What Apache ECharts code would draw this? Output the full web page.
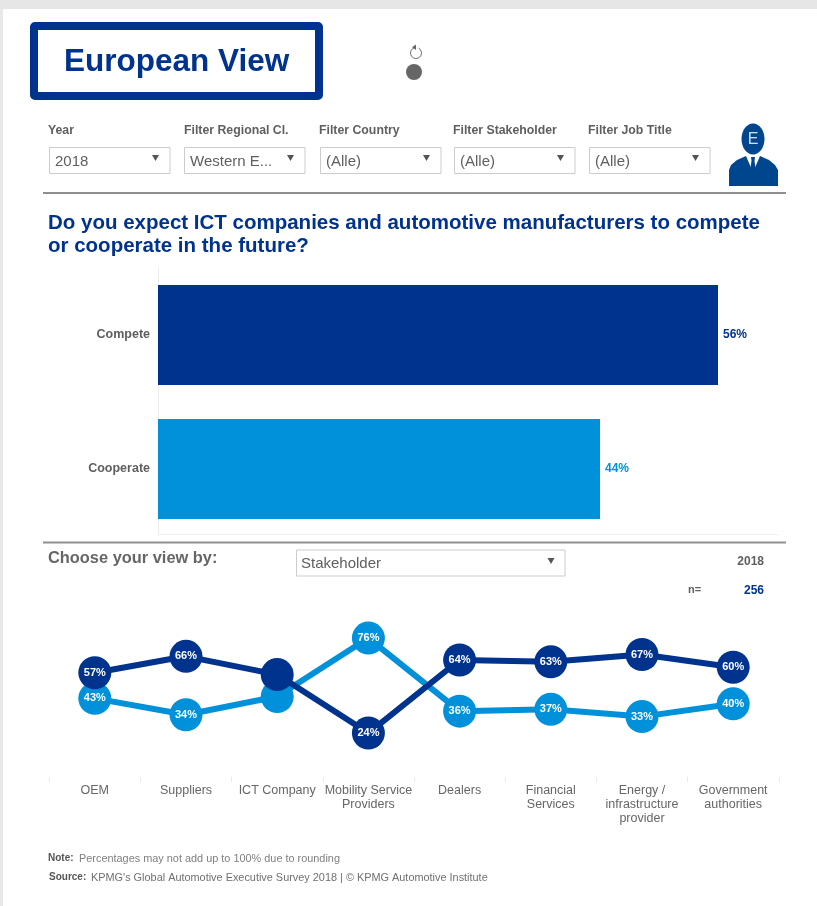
<!DOCTYPE html>
<html><head><meta charset="utf-8">
<style>html,body{margin:0;padding:0;background:#fff}#c{width:817px;height:906px}</style>
<script src="https://cdn.jsdelivr.net/npm/echarts@6/dist/echarts.min.js"></script>
</head><body><div id="c"></div>
<script>
const barCategories = ['Compete', 'Cooperate'];
const barValues = [56, 44.2];
const stakeholders = ['OEM', 'Suppliers', 'ICT Company', 'Mobility Service\nProviders', 'Dealers', 'Financial\nServices', 'Energy /\ninfrastructure\nprovider', 'Government\nauthorities'];
const competeValues = [57, 66, 56, 24, 64, 63, 67, 60];
const cooperateValues = [43, 34, 44, 76, 36, 37, 33, 40];
const hiddenLabelCategories = ['ICT Company'];
const filterLabels = ['Year', 'Filter Regional Cl.', 'Filter Country', 'Filter Stakeholder', 'Filter Job Title'];
const filterValues = ['2018', 'Western E...', '(Alle)', '(Alle)', '(Alle)'];

const DARK = '#00338D', CYAN = '#0091DA', GREY = '#666666';
const FF = '"Liberation Sans", Arial, sans-serif';
const g = [];
const txt = (x, y, text, size, color, weight, align, family) => g.push({type:'text', x, y, z:5, style:{text, fontSize:size, fill:color, fontWeight:weight||'normal', fontFamily:family||FF, align:align||'left', verticalAlign:'middle'}});
const rect = (x, y, w, h, style, r) => g.push({type:'rect', shape:{x, y, width:w, height:h, r:r||0}, style, z:1});
const arrow = (cx, cy) => g.push({type:'polygon', shape:{points:[[cx-3.5,cy-3],[cx+3.5,cy-3],[cx,cy+3]]}, style:{fill:'#555'}, z:3});

// page chrome
rect(0, 0, 817, 9, {fill:'#e6e6e6'});
rect(0, 9, 3, 897, {fill:'#e8e8e8'});
rect(34, 26, 285, 70, {fill:'#fff', stroke:DARK, lineWidth:8}, 1);
txt(64, 62.5, 'European View', 31.5, DARK, 'bold');

// reload icon and dot
g.push({type:'arc', shape:{cx:416, cy:53, r:5.5, startAngle:-Math.PI/2+0.5, endAngle:-Math.PI/2-0.3}, style:{stroke:'#666', fill:'none', lineWidth:1}, z:3});
g.push({type:'polygon', shape:{points:[[416,44.5],[416,50],[412,47.3]]}, style:{fill:'#666'}, z:3});
g.push({type:'circle', shape:{cx:414, cy:72, r:8}, style:{fill:'#666'}, z:3});

// filters
const labelX = [48, 184, 319, 453, 588], boxX = [49.5, 184.5, 320.5, 454.5, 589.5];
filterLabels.forEach((t, i) => {
  txt(labelX[i], 131, t, 12.3, '#5f5f5f', 'bold');
  rect(boxX[i], 147.5, 120.5, 26, {fill:'#fff', stroke:'#cccccc', lineWidth:1});
  txt(boxX[i]+5.5, 162, filterValues[i], 15, '#5f5f5f');
  arrow(boxX[i]+106, 158);
});

// person icon
g.push({type:'ellipse', shape:{cx:753, cy:139, rx:11.5, ry:15.5}, style:{fill:'#00468F'}, z:3});
g.push({type:'polygon', shape:{points:[[729,186],[729,170],[731,165],[737,160],[746,156],[752,170],[754,170],[760,156],[769,160],[775,165],[778,170],[778,186]]}, style:{fill:'#00468F'}, z:3});
g.push({type:'polygon', shape:{points:[[751,157],[755,157],[754.5,161],[756,171],[753,174],[750,171],[751.5,161]]}, style:{fill:'#00468F'}, z:4});
txt(753, 140, 'E', 16, '#cfe0f0', 'normal', 'center');

// rules
rect(43, 192, 743, 2, {fill:'#8f8f8f'});
rect(43, 541.5, 743, 2, {fill:'#8f8f8f'});

// question
txt(48, 223, 'Do you expect ICT companies and automotive manufacturers to compete', 20.5, DARK, 'bold');
txt(48, 246, 'or cooperate in the future?', 20.5, DARK, 'bold');

// view selector
txt(48, 558.5, 'Choose your view by:', 16.4, GREY, 'bold');
rect(296.5, 550, 268.5, 26, {fill:'#fff', stroke:'#cccccc', lineWidth:1});
txt(301, 564, 'Stakeholder', 15, '#5f5f5f');
arrow(551, 561);
txt(764, 561.5, '2018', 12, '#5f5f5f', 'bold', 'right');
txt(688, 589.5, 'n=', 11, '#5f5f5f', 'bold');
txt(764, 590.5, '256', 12, DARK, 'bold', 'right');

// notes
txt(48, 858.5, 'Note:', 10, '#555', 'bold');
txt(79, 858.5, 'Percentages may not add up to 100% due to rounding', 10.9, '#808080');
txt(49, 877.5, 'Source:', 10, '#555', 'bold');
txt(91, 877.5, "KPMG's Global Automotive Executive Survey 2018 | © KPMG Automotive Institute", 10.9, '#707070');

const lineData = (vals) => vals.map((v, i) => ({value:v, label:{show: !hiddenLabelCategories.includes(stakeholders[i])}}));
const lineLabel = {show:true, position:'inside', formatter:'{c}%', color:'#fff', fontSize:11, fontWeight:'bold', fontFamily:FF};

const chart = echarts.init(document.getElementById('c'));
chart.setOption({
  animation:false,
  backgroundColor:'#fff',
  graphic:{elements:g},
  grid:[
    {left:158, top:268, width:620, height:268},
    {left:49.2, top:594.2, width:729.6, height:182.7}
  ],
  xAxis:[
    {gridIndex:0, type:'value', min:0, max:62, show:true, splitLine:{show:false}, axisTick:{show:false}, axisLabel:{show:false},
     axisLine:{show:true, lineStyle:{color:'#f1f1f1'}}, offset:-2},
    {gridIndex:1, type:'category', data:stakeholders, boundaryGap:true, offset:3,
     axisLine:{show:false}, axisTick:{show:true, length:5, lineStyle:{color:'#e8e8e8'}},
     axisLabel:{interval:0, color:'#666', fontSize:12.5, fontFamily:FF, lineHeight:14, margin:4}}
  ],
  yAxis:[
    {gridIndex:0, type:'category', inverse:true, data:barCategories,
     axisLine:{show:true, lineStyle:{color:'#ececec'}}, axisTick:{show:false},
     axisLabel:{color:'#5f5f5f', fontSize:12.5, fontWeight:'bold', fontFamily:FF, margin:8}},
    {gridIndex:1, type:'value', min:0, max:100, show:false}
  ],
  series:[
    {type:'bar', xAxisIndex:0, yAxisIndex:0, barWidth:100,
     data:barValues.map((v,i)=>({value:v, itemStyle:{color:i===0?DARK:CYAN},
       label:{color:i===0?DARK:CYAN}})),
     label:{show:true, position:'right', distance:5, formatter:p=>Math.round(p.value)+'%', fontSize:12, fontWeight:'bold', fontFamily:FF}},
    {type:'line', name:'Cooperate', xAxisIndex:1, yAxisIndex:1, data:lineData(cooperateValues), z:3,
     symbol:'circle', symbolSize:33, lineStyle:{color:CYAN, width:6}, itemStyle:{color:CYAN}, label:lineLabel},
    {type:'line', name:'Compete', xAxisIndex:1, yAxisIndex:1, data:lineData(competeValues), z:4,
     symbol:'circle', symbolSize:33, lineStyle:{color:DARK, width:6}, itemStyle:{color:DARK}, label:lineLabel}
  ]
});
</script></body></html>
